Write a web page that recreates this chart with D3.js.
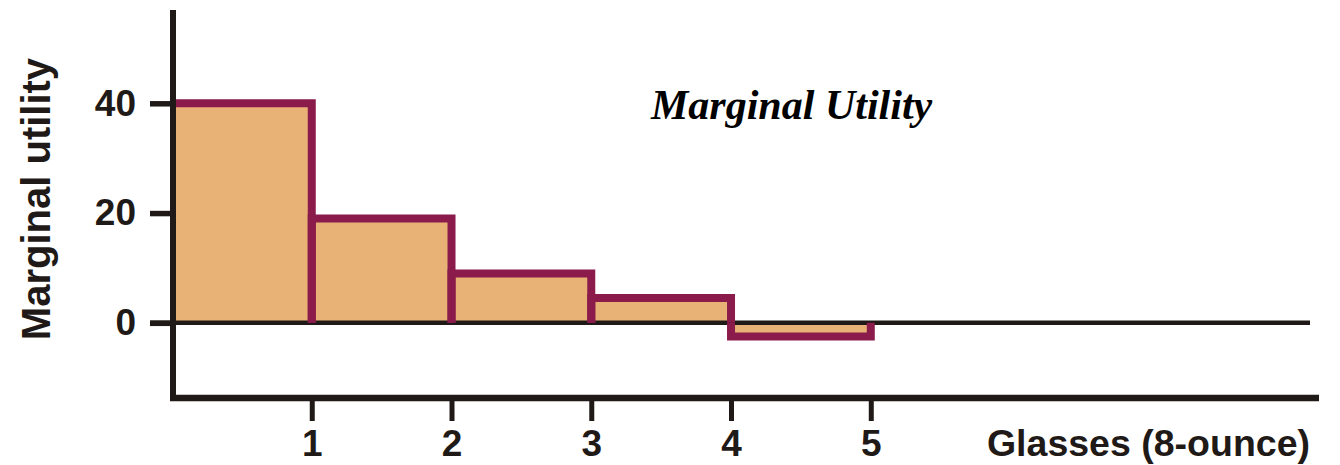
<!DOCTYPE html>
<html>
<head>
<meta charset="utf-8">
<script src="https://cdn.jsdelivr.net/npm/d3@7"></script>
<style>
  html, body { margin: 0; padding: 0; background: #ffffff; }
  svg { display: block; }
</style>
</head>
<body>
<svg id="chart" width="1340" height="465"></svg>
<script>
// Marginal utility of each additional 8-ounce glass
const glasses = [1, 2, 3, 4, 5];
const marginalUtility = [40, 19, 9, 4.5, -2.5];
const yTickValues = [0, 20, 40];
const xTickValues = [1, 2, 3, 4, 5];
const chartTitle = "Marginal Utility";
const yAxisTitle = "Marginal utility";
const xAxisTitle = "Glasses (8-ounce)";

const ink = "#1f1a17";
const barFill = "#e8b277";
const barEdge = "#8a1b4b";

const svg = d3.select("#chart");

const x = d3.scaleLinear().domain([0, 8.2]).range([172, 1318]);
const y = d3.scaleLinear().domain([-13.7, 57]).range([398, 10]);

// Keep bar outlines inside the plotting area (right of the vertical axis)
svg.append("defs").append("clipPath")
  .attr("id", "plot-area")
  .append("rect")
  .attr("x", x(0)).attr("y", 0)
  .attr("width", 1340 - x(0)).attr("height", 465);

// Bar fills (step columns between consecutive glass counts)
svg.append("g")
  .selectAll("rect")
  .data(glasses)
  .join("rect")
  .attr("x", (g) => x(g - 1))
  .attr("width", (g) => x(g) - x(g - 1))
  .attr("y", (g, i) => Math.min(y(marginalUtility[i]), y(0)))
  .attr("height", (g, i) => Math.abs(y(marginalUtility[i]) - y(0)))
  .attr("fill", barFill);

// Zero baseline
svg.append("line")
  .attr("x1", 150).attr("x2", 1310)
  .attr("y1", y(0)).attr("y2", y(0))
  .attr("stroke", ink).attr("stroke-width", 4.5);

// Bar outlines: left, top and right edges only
svg.append("g")
  .attr("clip-path", "url(#plot-area)")
  .selectAll("path")
  .data(glasses)
  .join("path")
  .attr("d", (g, i) => {
    const x0 = x(g - 1), x1 = x(g), yv = y(marginalUtility[i]), y0 = y(0);
    return `M${x0},${y0}V${yv}H${x1}V${y0}`;
  })
  .attr("fill", "none")
  .attr("stroke", barEdge)
  .attr("stroke-width", 8)
  .attr("stroke-linejoin", "miter")
  .attr("stroke-linecap", "butt");

// Y axis ticks and labels
const yAxis = svg.append("g")
  .attr("transform", "translate(173,0)")
  .call(d3.axisLeft(y).tickValues(yTickValues).tickSize(23).tickPadding(14).tickFormat(d3.format("d")));
yAxis.select(".domain").remove();
yAxis.selectAll(".tick line").attr("stroke", ink).attr("stroke-width", 5.5);
yAxis.selectAll(".tick text")
  .attr("fill", ink)
  .attr("font-family", "'Liberation Sans', Arial, sans-serif")
  .attr("font-weight", "bold")
  .attr("font-size", 37);

// X axis ticks and labels
const xAxis = svg.append("g")
  .attr("transform", "translate(0,398)")
  .call(d3.axisBottom(x).tickValues(xTickValues).tickSize(23).tickPadding(9).tickFormat(d3.format("d")));
xAxis.select(".domain").remove();
xAxis.selectAll(".tick line").attr("stroke", ink).attr("stroke-width", 5);
xAxis.selectAll(".tick text")
  .attr("fill", ink)
  .attr("font-family", "'Liberation Sans', Arial, sans-serif")
  .attr("font-weight", "bold")
  .attr("font-size", 37);

// Axis lines
svg.append("line")
  .attr("x1", 173).attr("x2", 173)
  .attr("y1", 10).attr("y2", 401)
  .attr("stroke", ink).attr("stroke-width", 6);
svg.append("line")
  .attr("x1", 170).attr("x2", 1319)
  .attr("y1", 398).attr("y2", 398)
  .attr("stroke", ink).attr("stroke-width", 6.5);

// Titles
svg.append("text")
  .attr("x", 651).attr("y", 119)
  .attr("font-family", "'Liberation Serif', 'Times New Roman', serif")
  .attr("font-weight", "bold")
  .attr("font-style", "italic")
  .attr("font-size", 42)
  .attr("fill", "#000")
  .text(chartTitle);

svg.append("text")
  .attr("transform", "translate(50,199) rotate(-90)")
  .attr("text-anchor", "middle")
  .attr("font-family", "'Liberation Sans', Arial, sans-serif")
  .attr("font-weight", "bold")
  .attr("font-size", 40)
  .attr("fill", ink)
  .text(yAxisTitle);

svg.append("text")
  .attr("x", 1310).attr("y", 456)
  .attr("text-anchor", "end")
  .attr("font-family", "'Liberation Sans', Arial, sans-serif")
  .attr("font-weight", "bold")
  .attr("font-size", 37.5)
  .attr("fill", ink)
  .text(xAxisTitle);
</script>
</body>
</html>
